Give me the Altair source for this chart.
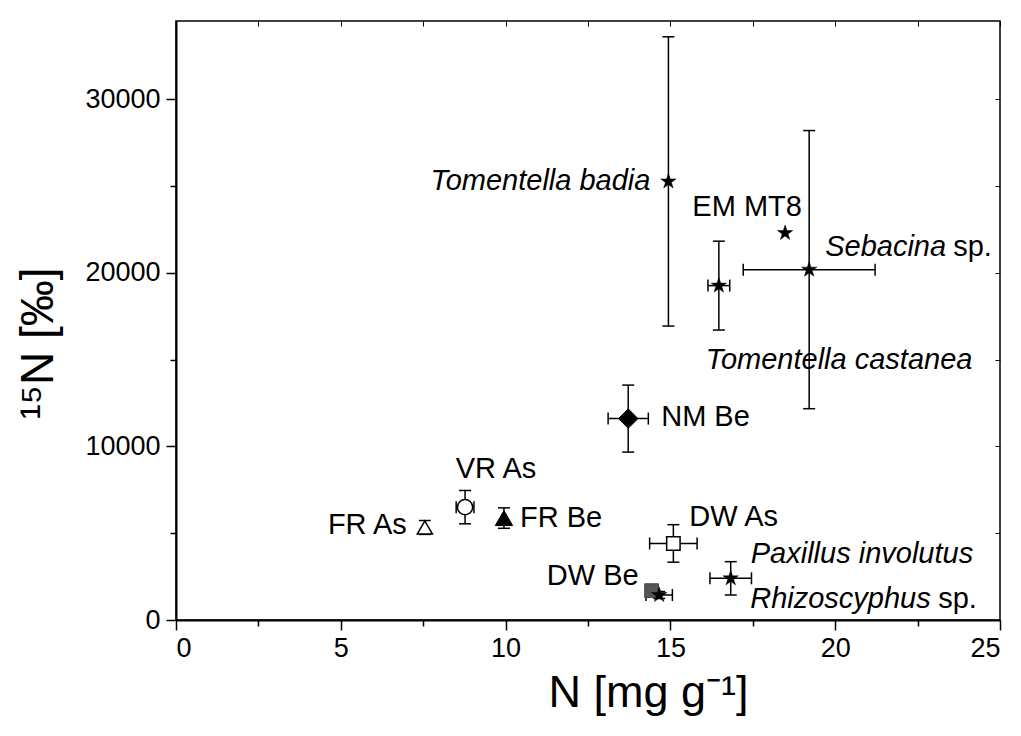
import altair as alt
import pandas as pd

# ---------------- data ----------------
names = ["Tomentella badia", "EM MT8", "Sebacina sp.", "Tomentella castanea", "NM Be",
         "VR As", "FR Be", "FR As", "DW As", "DW Be", "Rhizoscyphus sp.", "Paxillus involutus"]
n_content = [14.94, 18.48, 19.21, 16.47, 13.72, 8.77, 9.95, 7.55, 15.09, 14.43, 14.66, 16.83]
n15 = [25260, 22290, 20180, 19260, 11600, 6500, 5870, 5330, 4410, 1690, 1440, 2400]
n_content_err = [0, 0, 2.0, 0.33, 0.61, 0.27, 0, 0, 0.72, 0, 0.40, 0.63]
n15_err = [8330, 0, 8010, 2560, 1930, 960, 590, 400, 1080, 0, 200, 960]
marker = ["star", "star", "star", "star", "diamond", "circle_open", "triangle_filled",
          "triangle_open", "square_open", "square_gray", "star", "star"]

x_ticks = [0, 2.5, 5, 7.5, 10, 12.5, 15, 17.5, 20, 22.5, 25]
y_ticks = [0, 5000, 10000, 15000, 20000, 25000, 30000]
y_frame_ticks = [0, 5000, 10000, 15000, 20000, 25000, 30000]

# label text, italic?, attached point
labels = [
    ("Tomentella badia", "Tomentella badia", True),
    ("EM MT8", "EM MT8", False),
    ("Sebacina sp.", "Sebacina", True),
    ("Sebacina sp.", "sp.", False),
    ("Tomentella castanea", "Tomentella castanea", True),
    ("NM Be", "NM Be", False),
    ("VR As", "VR As", False),
    ("FR Be", "FR Be", False),
    ("FR As", "FR As", False),
    ("DW As", "DW As", False),
    ("DW Be", "DW Be", False),
    ("Paxillus involutus", "Paxillus involutus", True),
    ("Rhizoscyphus sp.", "Rhizoscyphus", True),
    ("Rhizoscyphus sp.", "sp.", False),
]
# label placement (style): dx, dy, align
label_style = [
    (-18, 0, "right"),
    (-38, -26, "center"),
    (16, -23, "left"),
    (144, -23, "left"),
    (-13, 74, "left"),
    (33, -2, "left"),
    (31, -38, "center"),
    (16, 0, "left"),
    (-18, -2, "right"),
    (16, -26, "left"),
    (-13, -15, "right"),
    (20, -24, "left"),
    (91, 4, "left"),
    (279, 4, "left"),
]

df = pd.DataFrame({"name": names, "n": n_content, "n15": n15,
                   "nerr": n_content_err, "n15err": n15_err, "marker": marker})
df["ylo"] = df["n15"] - df["n15err"]
df["yhi"] = df["n15"] + df["n15err"]
df["xlo"] = df["n"] - df["nerr"]
df["xhi"] = df["n"] + df["nerr"]
verr = df[df["n15err"] > 0]
herr = df[df["nerr"] > 0]

FONT = "Liberation Sans"
STAR = ("M0,-1L0.2245,-0.309L0.9511,-0.309L0.3633,0.118L0.5878,0.809L0,0.382"
        "L-0.5878,0.809L-0.3633,0.118L-0.9511,-0.309L-0.2245,-0.309Z")

xs = alt.Scale(domain=[0, 25], nice=False, zero=False)
ys = alt.Scale(domain=[0, 34500], nice=False, zero=False)

x_axis = alt.Axis(
    values=x_ticks, labelExpr="datum.value % 5 == 0 ? datum.label : ''",
    tickSize={"condition": {"test": "datum.value % 5 != 0", "value": 6}, "value": 10},
    tickWidth=1.5, tickColor="black", domainColor="black", domainWidth=2,
    labelFont=FONT, labelFontSize=27, labelColor="black", labelPadding=5,
    grid=False, title="N [mg g\u207b\u00b9]", titleFont=FONT, titleFontSize=45,
    titleFontWeight="normal", titleColor="black", titleX=472, titleY=50,
)
y_axis = alt.Axis(
    values=y_ticks, labelExpr="datum.value % 10000 == 0 ? datum.value : ''",
    tickSize={"condition": {"test": "datum.value % 10000 != 0", "value": 6}, "value": 10},
    tickWidth=1.5, tickColor="black", domainColor="black", domainWidth=2,
    labelFont=FONT, labelFontSize=27, labelColor="black", labelPadding=6,
    grid=False, title="\u00b9\u2075N [\u2030]", titleFont=FONT, titleFontSize=46,
    titleFontWeight="normal", titleColor="black", titleX=-114, titleY=322,
)
top_axis = alt.Axis(orient="top", values=x_ticks, labels=False, domain=False,
                    tickSize=5, offset=-5, tickColor="black", tickWidth=1, grid=False, title=None)
right_axis = alt.Axis(orient="right", values=y_frame_ticks, labels=False, domain=False,
                      tickSize=5, offset=-5, tickColor="black", tickWidth=1, grid=False, title=None)


def X(field, axis=None):
    return alt.X(f"{field}:Q", scale=xs, axis=axis)


def Y(field, axis=None):
    return alt.Y(f"{field}:Q", scale=ys, axis=axis)


base = alt.Chart(df)

# axes layers
axes_main = base.mark_point(opacity=0).encode(x=X("n", x_axis), y=Y("n15", y_axis))
axes_frame = base.mark_point(opacity=0).encode(x=X("n", top_axis), y=Y("n15", right_axis))

# error bars
v_rule = alt.Chart(verr).mark_rule(color="black", strokeWidth=1.5).encode(
    x=X("n"), y=Y("ylo"), y2="yhi:Q")
v_cap_lo = alt.Chart(verr).mark_tick(color="black", thickness=1.5, size=12, opacity=1,
                                     orient="horizontal").encode(x=X("n"), y=Y("ylo"))
v_cap_hi = alt.Chart(verr).mark_tick(color="black", thickness=1.5, size=12, opacity=1,
                                     orient="horizontal").encode(x=X("n"), y=Y("yhi"))
h_rule = alt.Chart(herr).mark_rule(color="black", strokeWidth=1.5).encode(
    x=X("xlo"), x2="xhi:Q", y=Y("n15"))
h_cap_lo = alt.Chart(herr).mark_tick(color="black", thickness=1.5, size=12, opacity=1,
                                     orient="vertical").encode(x=X("xlo"), y=Y("n15"))
h_cap_hi = alt.Chart(herr).mark_tick(color="black", thickness=1.5, size=12, opacity=1,
                                     orient="vertical").encode(x=X("xhi"), y=Y("n15"))


def pts(kind, **mk):
    return base.transform_filter(alt.datum.marker == kind).mark_point(opacity=1, **mk).encode(
        x=X("n"), y=Y("n15"))


p_gray = pts("square_gray", shape="square", size=190, filled=True, fill="#555555",
             stroke="#444444", strokeWidth=1)
p_star = pts("star", shape=STAR, size=260, filled=True, fill="black", stroke="black",
             strokeWidth=0.5)
p_diam = pts("diamond", shape="diamond", size=380, filled=True, fill="black", stroke="black",
             strokeWidth=1)
p_circ = pts("circle_open", shape="circle", size=230, filled=True, fill="white",
             stroke="black", strokeWidth=1.5)
p_trif = pts("triangle_filled", shape="triangle-up", size=300, filled=True, fill="black",
             stroke="black", strokeWidth=1)
p_trio = pts("triangle_open", shape="triangle-up", size=230, filled=True, fill="white",
             stroke="black", strokeWidth=1.5)
p_sqo = pts("square_open", shape="square", size=180, filled=True, fill="white",
            stroke="black", strokeWidth=1.5)

text_layers = []
for (pname, txt, ital, ), (dx, dy, al) in zip(labels, label_style):
    t = base.transform_filter(alt.datum.name == pname).mark_text(
        dx=dx, dy=dy, align=al, baseline="middle", font=FONT, fontSize=29,
        fontStyle="italic" if ital else "normal", color="black"
    ).encode(x=X("n"), y=Y("n15"), text=alt.value(txt))
    text_layers.append(t)

chart = alt.layer(
    axes_main, axes_frame,
    v_rule, v_cap_lo, v_cap_hi, h_rule, h_cap_lo, h_cap_hi,
    p_gray, p_star, p_diam, p_circ, p_trif, p_trio, p_sqo,
    *text_layers
).resolve_axis(x="independent", y="independent").properties(
    width=824, height=599,
    autosize=alt.AutoSizeParams(type="none"),
    padding={"left": 168, "top": 13, "right": 13, "bottom": 100},
    background="white",
).configure_view(stroke="black", strokeWidth=1.5)

chart.save("out.html", embed_options={"renderer": "svg", "actions": False})
